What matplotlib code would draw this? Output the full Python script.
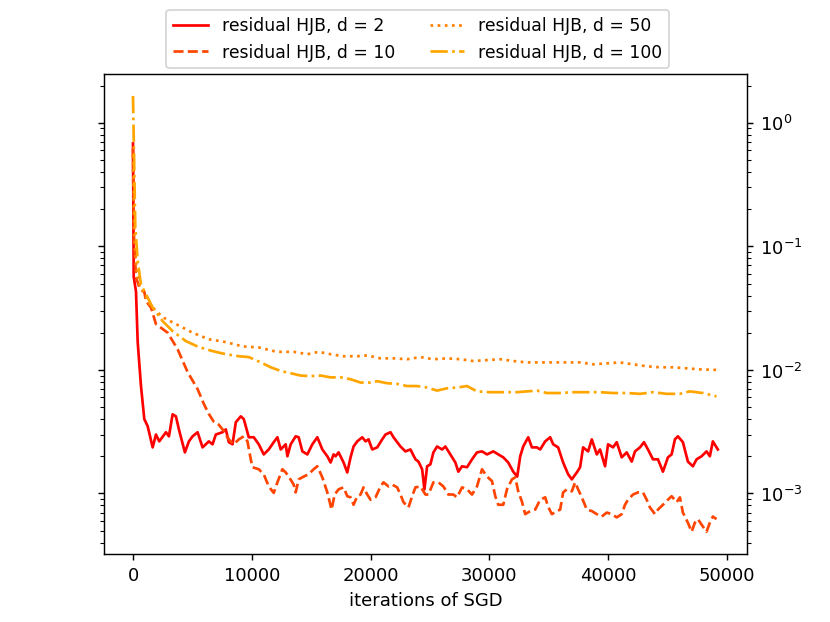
import matplotlib
matplotlib.use("Agg")
import matplotlib.pyplot as plt

# d = 2
it_d2 = [0, 59, 252, 395, 672, 950, 1235, 1655, 1933, 2210, 2773, 3025, 3336, 3613, 3865, 4370, 4706, 5017,
         5437, 5857, 6386, 6697, 6975, 7538, 7815, 8067, 8378, 8656, 9075, 9327, 9748, 10168, 10588, 11008,
         11428, 11848, 12159, 12437, 12857, 13000, 13277, 13697, 13949, 14260, 14680, 15100, 15521, 15941,
         16361, 16638, 16890, 17058, 17310, 17730, 18041, 18319, 18571, 18882, 19302, 19579, 19831, 20142,
         20562, 20982, 21260, 21680, 21932, 22243, 22520, 22940, 23360, 23780, 24033, 24344, 24537, 24764,
         25041, 25293, 25604, 26024, 26301, 26722, 27142, 27394, 27705, 28125, 28545, 28965, 29385, 29806,
         30335, 30755, 31175, 31595, 32015, 32351, 32603, 32855, 33276, 33587, 34007, 34284, 34704, 35125,
         35377, 35797, 36217, 36637, 36948, 37369, 37645, 37898, 38318, 38629, 39049, 39326, 39746, 39998,
         40418, 40729, 41149, 41569, 41990, 42267, 42687, 43023, 43359, 43780, 44200, 44620, 45040, 45351,
         45628, 45880, 46300, 46721, 47141, 47452, 47872, 48292, 48569, 48821, 49241]
res_d2 = [0.68, 0.057, 0.043, 0.0168, 0.0074, 0.0040, 0.0035, 0.00236, 0.0030, 0.00264, 0.00313, 0.0029,
          0.00437, 0.00421, 0.0033, 0.00215, 0.00264, 0.0029, 0.00313, 0.00236, 0.00264, 0.0025, 0.0030,
          0.00313, 0.0033, 0.0026, 0.0025, 0.00377, 0.00421, 0.0040, 0.00285, 0.00285, 0.0025, 0.00207,
          0.00227, 0.0026, 0.00285, 0.00227, 0.0025, 0.0020, 0.0025, 0.0029, 0.00285, 0.00219, 0.00207,
          0.0025, 0.00285, 0.00227, 0.0020, 0.00178, 0.00207, 0.0020, 0.00215, 0.00178, 0.00148, 0.00196,
          0.0024, 0.00264, 0.00285, 0.00264, 0.00274, 0.00227, 0.00236, 0.00274, 0.0030, 0.00313, 0.00285,
          0.0026, 0.0024, 0.00219, 0.00227, 0.00189, 0.00181, 0.00157, 0.00108, 0.00166, 0.00172, 0.00215,
          0.0024, 0.00227, 0.0024, 0.00207, 0.00178, 0.0015, 0.00166, 0.00163, 0.00189, 0.00215, 0.00219,
          0.00207, 0.00219, 0.00207, 0.00196, 0.00178, 0.0015, 0.00137, 0.0020, 0.0024, 0.00285, 0.00236,
          0.00236, 0.00227, 0.00264, 0.00285, 0.0025, 0.00236, 0.00178, 0.00143, 0.0013, 0.00148, 0.00163,
          0.00236, 0.00219, 0.00274, 0.00207, 0.00227, 0.00166, 0.0025, 0.00236, 0.0026, 0.00196, 0.00215,
          0.00181, 0.00219, 0.00236, 0.0026, 0.00227, 0.00189, 0.00189, 0.0015, 0.00196, 0.00207, 0.00274,
          0.0029, 0.0026, 0.00181, 0.00166, 0.00189, 0.0020, 0.00219, 0.0020, 0.00264, 0.00227]

# d = 10
it_d10 = [0, 80, 250, 529, 950, 1092, 1513, 1933, 2916, 3756, 4597, 5437, 5966, 6386, 6806, 7227, 7647, 8067,
          8487, 8907, 9327, 9638, 9916, 10059, 10588, 11008, 11428, 11848, 12159, 12579, 12857, 13109, 13529,
          13697, 13949, 14369, 14789, 15209, 15521, 15941, 16361, 16722, 16974, 17310, 17730, 18041, 18319,
          18571, 18882, 19159, 19411, 19722, 20000, 20420, 20840, 21092, 21512, 21823, 22243, 22520, 22772,
          23192, 23503, 23780, 24201, 24621, 24873, 25293, 25713, 26133, 26553, 26974, 27285, 27705, 28125,
          28545, 28965, 29385, 29806, 30226, 30503, 30755, 31175, 31486, 31906, 32183, 32435, 32746, 33023,
          33443, 33864, 34284, 34704, 34956, 35267, 35688, 35965, 36217, 36528, 36948, 37225, 37477, 37788,
          38208, 38629, 39049, 39469, 39889, 40309, 40729, 41149, 41426, 41678, 42099, 42519, 42939, 43250,
          43528, 43948, 44200, 44620, 45040, 45351, 45771, 46048, 46300, 46721, 47032, 47309, 47561, 47981,
          48292, 48569, 48821, 49132]
res_d10 = [0.62, 0.12, 0.056, 0.047, 0.043, 0.036, 0.032, 0.0235, 0.020, 0.0147, 0.0096, 0.0070, 0.0053,
           0.0044, 0.0038, 0.0036, 0.0032, 0.00274, 0.0025, 0.00274, 0.0029, 0.00264, 0.00189, 0.00163,
           0.00157, 0.00143, 0.00114, 0.00101, 0.00123, 0.00157, 0.00148, 0.00137, 0.00118, 0.00102, 0.0013,
           0.00137, 0.00143, 0.00157, 0.00166, 0.00135, 0.00102, 0.00074, 0.00098, 0.00108, 0.00112, 0.00095,
           0.00093, 0.00081, 0.00095, 0.00098, 0.00112, 0.00098, 0.00089, 0.00093, 0.00114, 0.00123, 0.00114,
           0.00118, 0.00112, 0.00098, 0.00085, 0.00077, 0.00095, 0.00112, 0.00114, 0.00098, 0.00098, 0.00123,
           0.00123, 0.00114, 0.00098, 0.00098, 0.00093, 0.00112, 0.00108, 0.00098, 0.00114, 0.00157, 0.00137,
           0.00126, 0.00095, 0.00081, 0.00081, 0.00108, 0.0013, 0.00135, 0.00104, 0.00086, 0.00068, 0.00072,
           0.00074, 0.00089, 0.00093, 0.00078, 0.00068, 0.00072, 0.00074, 0.00102, 0.00108, 0.00104, 0.00123,
           0.00108, 0.00093, 0.00074, 0.00072, 0.00068, 0.00065, 0.00070, 0.00068, 0.00064, 0.00068, 0.00081,
           0.00089, 0.00098, 0.00102, 0.00102, 0.00089, 0.00077, 0.00068, 0.00074, 0.00081, 0.00089, 0.00095,
           0.00085, 0.00093, 0.00070, 0.00058, 0.00049, 0.00058, 0.00062, 0.00054, 0.00049, 0.00058, 0.00065,
           0.00062]

# d = 50
it_d50 = [0, 100, 300, 529, 1370, 2496, 3613, 5017, 6386, 7815, 9218, 10588, 11848, 12437, 13529, 14680,
          15630, 16638, 17730, 18882, 19722, 20840, 21932, 23083, 24201, 25293, 26444, 27562, 28655, 29806,
          30923, 32015, 33166, 34284, 35377, 36528, 37645, 38738, 39889, 41006, 42099, 43250, 44368, 45460,
          46611, 47729, 49132]
res_d50 = [0.55, 0.12, 0.065, 0.049, 0.034, 0.0267, 0.0235, 0.020, 0.0177, 0.0168, 0.0155, 0.0152, 0.0142,
           0.0140, 0.0140, 0.0134, 0.0140, 0.0134, 0.0129, 0.0129, 0.0131, 0.0124, 0.0124, 0.0122, 0.0127,
           0.0122, 0.0124, 0.0122, 0.0118, 0.0120, 0.0122, 0.0118, 0.0115, 0.0115, 0.0115, 0.0115, 0.0115,
           0.0111, 0.0113, 0.0115, 0.0111, 0.0107, 0.0105, 0.0105, 0.0103, 0.0101, 0.0100]

# d = 100
it_d100 = [0, 109, 193, 395, 672, 1092, 1655, 2496, 3336, 4454, 5546, 6697, 7815, 8907, 9748, 10588, 11428,
           11596, 12437, 13277, 14117, 14957, 15798, 16638, 17478, 18319, 19159, 20000, 20562, 21403, 22243,
           23083, 23923, 24764, 25604, 26444, 27285, 28125, 28965, 30083, 31175, 32326, 33166, 34007, 34847,
           35965, 37057, 38208, 39326, 40418, 41569, 42687, 43780, 44931, 46048, 46889, 47981, 49132]
res_d100 = [1.65, 0.41, 0.143, 0.076, 0.049, 0.041, 0.032, 0.0248, 0.0206, 0.0171, 0.0153, 0.0142, 0.0134,
            0.0129, 0.0127, 0.0117, 0.0107, 0.0105, 0.0098, 0.0094, 0.0090, 0.0089, 0.0090, 0.0087, 0.0087,
            0.0084, 0.0079, 0.0079, 0.0081, 0.0078, 0.0077, 0.0074, 0.0074, 0.0072, 0.0068, 0.0071, 0.0072,
            0.0074, 0.0067, 0.0066, 0.0066, 0.0066, 0.0067, 0.0068, 0.0065, 0.0065, 0.0066, 0.0066, 0.0066,
            0.0065, 0.0065, 0.0064, 0.0066, 0.0064, 0.0064, 0.0067, 0.0065, 0.0061]

labels = ["residual HJB, d = 2", "residual HJB, d = 10", "residual HJB, d = 50", "residual HJB, d = 100"]

fig, ax = plt.subplots(figsize=(6.4, 4.8), dpi=129.7)
ax.plot(it_d2, res_d2, color="red", linestyle="-", label=labels[0])
ax.plot(it_d10, res_d10, color="orangered", linestyle="--", label=labels[1])
ax.plot(it_d50, res_d50, color="#ff8000", linestyle=":", label=labels[2])
ax.plot(it_d100, res_d100, color="orange", linestyle="-.", label=labels[3])
ax.set_yscale("log")
ax.yaxis.set_ticks_position("both")
ax.tick_params(axis="y", which="both", labelleft=False, labelright=True)
ax.set_xlabel("iterations of SGD")
ax.legend(loc="lower center", bbox_to_anchor=(0.488, 1.0125), ncol=2,
          borderaxespad=0, fontsize=9.6)
fig.savefig("out.png", dpi=129.7)
